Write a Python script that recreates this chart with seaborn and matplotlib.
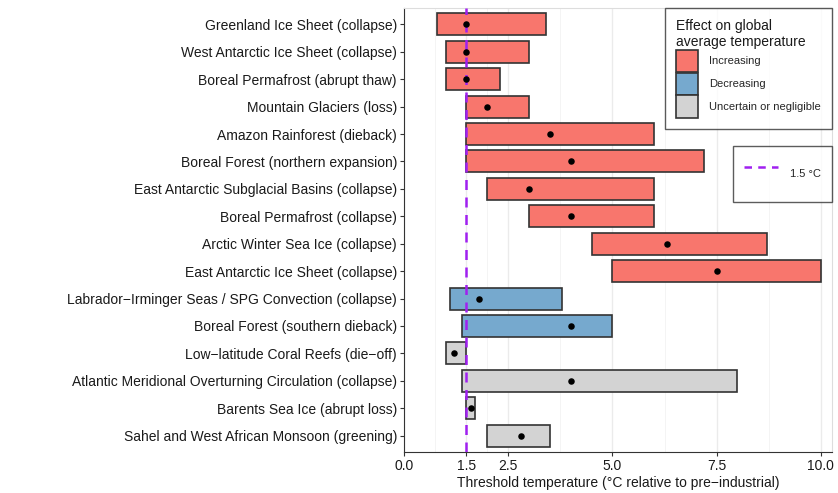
import numpy as np
import pandas as pd
import seaborn as sns
import matplotlib
matplotlib.use('Agg')
import matplotlib.pyplot as plt
from matplotlib.patches import Patch
from matplotlib.lines import Line2D

# tipping elements, top to bottom
elements = [
    "Greenland Ice Sheet (collapse)",
    "West Antarctic Ice Sheet (collapse)",
    "Boreal Permafrost (abrupt thaw)",
    "Mountain Glaciers (loss)",
    "Amazon Rainforest (dieback)",
    "Boreal Forest (northern expansion)",
    "East Antarctic Subglacial Basins (collapse)",
    "Boreal Permafrost (collapse)",
    "Arctic Winter Sea Ice (collapse)",
    "East Antarctic Ice Sheet (collapse)",
    "Labrador\u2212Irminger Seas / SPG Convection (collapse)",
    "Boreal Forest (southern dieback)",
    "Low\u2212latitude Coral Reefs (die\u2212off)",
    "Atlantic Meridional Overturning Circulation (collapse)",
    "Barents Sea Ice (abrupt loss)",
    "Sahel and West African Monsoon (greening)",
]
t_min = [0.8, 1.0, 1.0, 1.5, 1.5, 1.5, 2.0, 3.0, 4.5, 5.0, 1.1, 1.4, 1.0, 1.4, 1.5, 2.0]
t_max = [3.4, 3.0, 2.3, 3.0, 6.0, 7.2, 6.0, 6.0, 8.7, 10.0, 3.8, 5.0, 1.5, 8.0, 1.7, 3.5]
t_est = [1.5, 1.5, 1.5, 2.0, 3.5, 4.0, 3.0, 4.0, 6.3, 7.5, 1.8, 4.0, 1.2, 4.0, 1.6, 2.8]
effect = ["Increasing"] * 10 + ["Decreasing"] * 2 + ["Uncertain or negligible"] * 4

effect_colors = {"Increasing": "#F8766D",
                 "Decreasing": "#76A9CE",
                 "Uncertain or negligible": "#D3D3D3"}

df = pd.DataFrame({"element": elements, "lo": t_min, "hi": t_max,
                   "est": t_est, "effect": effect})
df["pos"] = np.arange(len(df))

sns.set_theme(style="white")
plt.rcParams['font.family'] = ['Liberation Sans', 'DejaVu Sans']

fig, ax = plt.subplots(figsize=(8.38, 4.93), dpi=100)
fig.subplots_adjust(left=0.482, right=0.993, top=0.984, bottom=0.083)

# grid
major = [0, 1.5, 2.5, 5.0, 7.5, 10.0]
minor = [0.75, 2.0, 3.75, 6.25, 8.75]
ax.set_xticks(major)
ax.set_xticks(minor, minor=True)
ax.grid(True, axis='x', which='major', color='#EBEBEB', lw=1.0, zorder=0)
ax.grid(True, axis='x', which='minor', color='#F2F2F2', lw=0.6, zorder=0)
ax.set_axisbelow(True)

# ranges
ax.barh(df["pos"], df["hi"] - df["lo"], left=df["lo"], height=0.8,
        color=[effect_colors[e] for e in df["effect"]],
        edgecolor='#333333', linewidth=1.2, zorder=2)

# 1.5 line
ax.axvline(1.5, color='#A020F0', ls=(0, (4, 3)), lw=1.8, zorder=3)

# central estimates
sns.scatterplot(data=df, x="est", y="pos", color='black', s=22,
                 edgecolor='black', linewidth=0, zorder=4, ax=ax, legend=False)

ax.set_yticks(df["pos"])
ax.set_yticklabels(df["element"], fontsize=10, color='#1A1A1A')
ax.set_xticklabels(["0.0", "1.5", "2.5", "5.0", "7.5", "10.0"], fontsize=10, color='#1A1A1A')
ax.set_xlim(0, 10.27)
ax.set_ylim(15.6, -0.6)
ax.set_xlabel("Threshold temperature (\u00b0C relative to pre\u2212industrial)", fontsize=10,
              color='#1A1A1A', labelpad=2)
ax.set_ylabel("")
ax.tick_params(axis='both', which='major', length=3, width=0.8, color='#333333', pad=2,
               left=True, bottom=True)
ax.tick_params(axis='x', which='minor', length=0)

for side in ['left', 'bottom']:
    ax.spines[side].set_color('#333333')
    ax.spines[side].set_linewidth(0.8)
for side in ['top', 'right']:
    ax.spines[side].set_color('#DDDDDD')
    ax.spines[side].set_linewidth(0.8)

# legends
handles = [Patch(facecolor=effect_colors[k], edgecolor='#333333', linewidth=1.2, label=k)
           for k in effect_colors]
leg1 = ax.legend(handles=handles, title="Effect on global\naverage temperature",
                 loc='upper right', bbox_to_anchor=(1.0, 1.0), fontsize=8,
                 title_fontsize=10, frameon=True, fancybox=False, edgecolor='#333333',
                 handlelength=2.0, handleheight=2.7, labelspacing=0.05,
                 handletextpad=1.0, borderaxespad=0.0, alignment='left', borderpad=1.0)
leg1.get_frame().set_linewidth(1.0)
leg1.get_title().set_color('#1A1A1A')
ax.add_artist(leg1)

line_h = [Line2D([0], [0], color='#A020F0', ls=(0, (3, 2.5)), lw=1.8, label="1.5 \u00b0C")]
leg2 = ax.legend(handles=line_h, loc='upper right', bbox_to_anchor=(1.0, 0.689),
                 fontsize=8, frameon=True, fancybox=False, edgecolor='#333333',
                 handlelength=3.0, handleheight=4.3, handletextpad=1.1,
                 borderaxespad=0.0, borderpad=1.0)
leg2.get_frame().set_linewidth(1.0)

fig.savefig("out.png", dpi=100)
